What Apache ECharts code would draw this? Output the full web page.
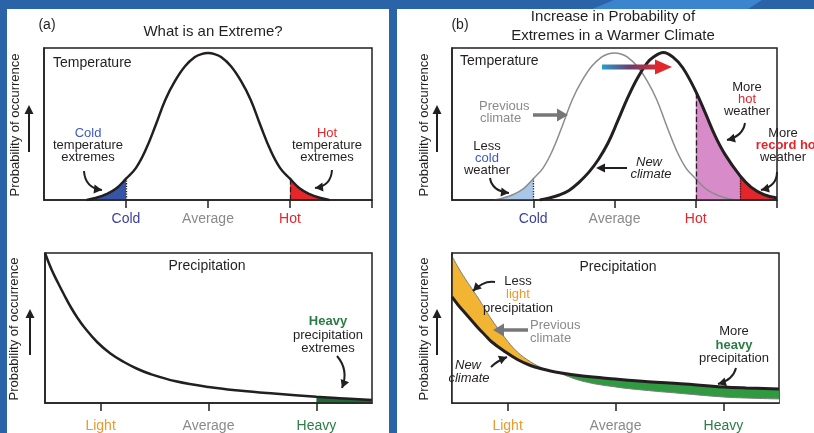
<!DOCTYPE html>
<html>
<head>
<meta charset="utf-8">
<title>Extremes</title>
<script src="https://cdn.jsdelivr.net/npm/echarts@6/dist/echarts.min.js"></script>
<style>
html, body { margin: 0; padding: 0; background: #2b63a8; }
#main { width: 814px; height: 433px; }
</style>
</head>
<body>
<div id="main"></div>
<script>
// 温度 原来的分布 (a 图和 b 图灰线共用)
var tempX = [13, 16, 19, 22, 25, 28, 31, 34, 37, 40, 43, 46, 48, 50, 52, 54, 57, 60, 63, 66, 69, 72, 75, 78, 81, 84, 87];
var tempY = [0, 1.5, 3.8, 7.5, 14, 21, 33, 49, 66, 78.5, 88, 94, 96, 96.7, 96, 94, 88, 78.5, 66, 49, 33, 21, 14, 7.5, 3.8, 1.5, 0];
// 温度 变暖后的分布 (b 图黑线)
var newTempX = [27, 30, 33, 36, 39, 42, 45, 48, 51, 54, 57, 60, 62, 65, 68, 71, 75, 78, 81, 84, 88.6, 92, 96, 100];
var newTempY = [0, 1.4, 3.3, 6.3, 11.5, 18, 26.5, 37.5, 52, 67, 80, 90, 94, 97, 94, 87, 71.5, 57, 42, 30, 16, 8.5, 3.5, 1.3];
// 降水
var precipX = [0, 2, 4, 6, 8, 10, 12, 16, 20, 24, 28, 32, 40, 50, 60, 70, 83, 90, 100];
var precipY = [100, 89, 80, 71.5, 63.5, 56.5, 50.5, 40.5, 33, 27.5, 23, 19.5, 14.5, 10.7, 8.2, 6.3, 4.1, 3.2, 2];
var prevPrecipY = [98, 90, 83, 76.5, 70, 63, 56, 44, 34, 27.5, 23, 20.5, 14.5, 10.7, 8.3, 6.4, 4, 3.3, 2.7];
var newPrecipY = [70.7, 65, 60, 55, 50, 45.5, 41, 34.5, 29, 25, 22.5, 20.5, 18, 16, 14.2, 12.8, 10.7, 10, 9.3];
// 刻度
var tempTicks = [25, 50, 75];
var tempLabels = ['Cold', 'Average', 'Hot'];
var precipTicks = [17, 50, 83];
var precipLabels = ['Light', 'Average', 'Heavy'];
// 分界点
var coldEdge = 25, hotEdge = 75, recordEdge = 88.6, heavyEdge = 83, crossEdge = 32, coverEdge = 28;

var FONT = 'Liberation Sans, Arial, Helvetica, sans-serif';
var INK = '#231f20';
var GREY = '#8a8a8a';
var BLUE_TXT = '#3d5bbf';
var RED = '#e3262b';
var GREEN_TXT = '#2b7d46';
var ORANGE = '#eb9a2c';

// 取区间内的点
function pairs(xs, ys, lo, hi) {
    var out = [];
    for (var i = 0; i < xs.length; i++) {
        if (xs[i] >= lo && xs[i] <= hi) {
            out.push([xs[i], ys[i]]);
        }
    }
    return out;
}
function yAt(xs, ys, x) {
    return ys[xs.indexOf(x)];
}

function axisX(gi, ticks, labelTicks, labels, colors, margin) {
    var rich = {};
    labels.forEach(function (t, k) {
        rich['l' + k] = { color: colors[k], fontSize: 14, fontFamily: FONT };
    });
    return {
        type: 'value', gridIndex: gi, min: 0, max: 100, z: 5,
        axisLine: { show: true, onZero: false, lineStyle: { color: INK, width: 1.5 } },
        axisTick: { show: true, customValues: ticks, length: 8, lineStyle: { color: INK, width: 1.5 } },
        axisLabel: {
            show: true, customValues: labelTicks, margin: margin,
            formatter: function (v) {
                var k = labelTicks.indexOf(v);
                return k < 0 ? '' : '{l' + k + '|' + labels[k] + '}';
            },
            rich: rich
        },
        splitLine: { show: false }
    };
}
// y 轴只画左边框 (盖在白色填充之上)
function axisY(gi) {
    return {
        type: 'value', gridIndex: gi, min: 0, max: 100, z: 5,
        axisLine: { show: true, onZero: false, lineStyle: { color: INK, width: 1.5 } },
        axisTick: { show: false }, axisLabel: { show: false }, splitLine: { show: false }
    };
}
function grid(l, t, w, h) {
    return { left: l, top: t, width: w, height: h, show: true, backgroundColor: '#fff', borderColor: INK, borderWidth: 1.5 };
}
function fill(gi, data, color) {
    return {
        type: 'line', xAxisIndex: gi, yAxisIndex: gi, data: data, smooth: 0.4,
        symbol: 'none', lineStyle: { width: 0 }, areaStyle: { color: color, opacity: 1 }
    };
}
function curve(gi, data, color, width) {
    return {
        type: 'line', xAxisIndex: gi, yAxisIndex: gi, data: data, smooth: 0.4,
        symbol: 'none', lineStyle: { color: color, width: width }
    };
}
function vLine(x, y, type) {
    return [{ coord: [x, 0], lineStyle: { type: type, color: INK, width: 1.3 } }, { coord: [x, y] }];
}

// 文字
function txt(x, y, s, o) {
    o = o || {};
    return {
        type: 'text', z: 100, x: x, y: y, rotation: o.rot || 0,
        style: {
            text: s, x: 0, y: 0, fill: o.color || INK,
            fontSize: o.size || 13, fontFamily: FONT,
            fontWeight: o.bold ? 'bold' : 'normal',
            fontStyle: o.italic ? 'italic' : 'normal',
            align: o.align || 'center', verticalAlign: 'middle'
        }
    };
}
// 箭头
function head(x, y, fx, fy, len, hw, color) {
    var a = Math.atan2(y - fy, x - fx);
    var c = Math.cos(a), s = Math.sin(a);
    return {
        type: 'polygon', z: 100,
        shape: { points: [[x, y], [x - len * c + hw * s, y - len * s - hw * c], [x - len * c - hw * s, y - len * s + hw * c]] },
        style: { fill: color }
    };
}
function bent(x1, y1, cx, cy, x2, y2, color, width, len, hw) {
    return [
        {
            type: 'bezierCurve', z: 100,
            shape: { x1: x1, y1: y1, cpx1: cx, cpy1: cy, x2: x2, y2: y2 },
            style: { stroke: color, lineWidth: width, fill: null }
        },
        head(x2, y2, cx, cy, len, hw, color)
    ];
}
function straight(x1, y1, x2, y2, color, width, len, hw) {
    var a = Math.atan2(y2 - y1, x2 - x1);
    return [
        {
            type: 'line', z: 100,
            shape: { x1: x1, y1: y1, x2: x2 - len * 0.8 * Math.cos(a), y2: y2 - len * 0.8 * Math.sin(a) },
            style: { stroke: color, lineWidth: width }
        },
        head(x2, y2, x1, y1, len, hw, color)
    ];
}

var graphics = [
    // 背景面板
    { type: 'polygon', z: -2, shape: { points: [[614, 0], [762, 0], [748, 9], [592, 9]] }, style: { fill: '#3a85cd' } },
    { type: 'rect', z: -1, shape: { x: 7, y: 9, width: 382, height: 430 }, style: { fill: '#fff' } },
    { type: 'rect', z: -1, shape: { x: 397, y: 9, width: 420, height: 430 }, style: { fill: '#fff' } },

    // (a)
    txt(47, 25, '(a)', { size: 14 }),
    txt(213, 32, 'What is an Extreme?', { size: 15 }),
    txt(53, 63, 'Temperature', { size: 14, align: 'left' }),
    txt(15, 125, 'Probability of occurrence', { rot: Math.PI / 2 }),
    txt(14, 329, 'Probability of occurrence', { rot: Math.PI / 2 }),
    txt(88, 133, 'Cold', { color: BLUE_TXT }),
    txt(88, 145, 'temperature'),
    txt(88, 157, 'extremes'),
    txt(327, 133, 'Hot', { color: RED }),
    txt(327, 145, 'temperature'),
    txt(327, 157, 'extremes'),
    txt(207, 266, 'Precipitation', { size: 14 }),
    txt(328, 321, 'Heavy', { color: GREEN_TXT, bold: true }),
    txt(328, 335, 'precipitation'),
    txt(328, 348, 'extremes'),

    // (b)
    txt(460, 25, '(b)', { size: 14 }),
    txt(613, 17, 'Increase in Probability of', { size: 15 }),
    txt(613, 36, 'Extremes in a Warmer Climate', { size: 15 }),
    txt(460, 61, 'Temperature', { size: 14, align: 'left' }),
    txt(424, 125, 'Probability of occurrence', { rot: Math.PI / 2 }),
    txt(424, 329, 'Probability of occurrence', { rot: Math.PI / 2 }),
    txt(479, 106, 'Previous', { color: GREY, align: 'left' }),
    txt(480, 118, 'climate', { color: GREY, align: 'left' }),
    txt(487, 146, 'Less'),
    txt(487, 158, 'cold', { color: BLUE_TXT }),
    txt(487, 170, 'weather'),
    txt(649, 162, 'New', { italic: true }),
    txt(651, 174, 'climate', { italic: true }),
    txt(747, 87, 'More'),
    txt(747, 99, 'hot', { color: RED }),
    txt(747, 111, 'weather'),
    txt(783, 133, 'More'),
    txt(788, 145, 'record hot', { color: RED, bold: true }),
    txt(783, 157, 'weather'),
    txt(618, 267, 'Precipitation', { size: 14 }),
    txt(518, 281, 'Less'),
    txt(518, 294, 'light', { color: ORANGE }),
    txt(518, 308, 'precipitation'),
    txt(530, 325, 'Previous', { color: GREY, align: 'left' }),
    txt(530, 338, 'climate', { color: GREY, align: 'left' }),
    txt(468, 365, 'New', { italic: true }),
    txt(469, 378, 'climate', { italic: true }),
    txt(734, 331, 'More'),
    txt(734, 345, 'heavy', { color: GREEN_TXT, bold: true }),
    txt(734, 358, 'precipitation'),

    // 渐变箭头
    {
        type: 'rect', z: 100, shape: { x: 602, y: 64.5, width: 56, height: 5 },
        style: {
            fill: new echarts.graphic.LinearGradient(0, 0, 1, 0, [
                { offset: 0, color: '#27a0cc' },
                { offset: 0.5, color: '#6b3d6e' },
                { offset: 1, color: '#e0282d' }
            ])
        }
    },
    { type: 'polygon', z: 100, shape: { points: [[655, 59.5], [672, 67], [655, 74.5]] }, style: { fill: '#e0282d' } }
];

var arrows = [].concat(
    straight(29, 152, 29, 105, INK, 2, 9, 4.5),
    straight(30, 355, 30, 309, INK, 2, 9, 4.5),
    straight(437, 152, 437, 105, INK, 2, 9, 4.5),
    straight(437, 355, 437, 309, INK, 2, 9, 4.5),
    bent(84, 171, 85, 188, 102, 190, INK, 2, 8, 4.5),
    bent(332, 170, 331, 186, 315, 188, INK, 2, 8, 4.5),
    bent(337, 356, 349, 370, 342, 388, INK, 2, 8, 4.5),
    bent(490, 178, 492, 191, 509, 193, INK, 2, 8, 4.5),
    straight(533, 115, 568, 115, '#777', 3.5, 11, 6.5),
    straight(627, 168, 596, 168, INK, 2, 9, 4.5),
    bent(745, 123, 743, 136, 727, 140, INK, 2, 8, 4.5),
    bent(777, 172, 777, 186, 761, 190, INK, 2, 8, 4.5),
    bent(495, 282, 484, 280, 473, 291, INK, 2, 8, 4.5),
    straight(528, 330, 493, 330, '#777', 3.5, 11, 6.5),
    bent(491, 367, 497, 361, 507, 357, INK, 2, 8, 4.5),
    bent(736, 368, 733, 380, 718, 384, INK, 2, 8, 4.5)
);
graphics = graphics.concat(arrows);

var oldCurve = curve(0, pairs(tempX, tempY, 0, 100), INK, 2.5);
oldCurve.markLine = {
    silent: true, symbol: ['none', 'none'], label: { show: false },
    data: [vLine(coldEdge, yAt(tempX, tempY, coldEdge), 'dotted'), vLine(hotEdge, yAt(tempX, tempY, hotEdge), 'dashed')]
};
var warmCurve = curve(2, pairs(newTempX, newTempY, 0, 100), INK, 3);
warmCurve.markLine = {
    silent: true, symbol: ['none', 'none'], label: { show: false },
    data: [
        vLine(coldEdge, yAt(tempX, tempY, coldEdge), 'dotted'),
        vLine(hotEdge, yAt(newTempX, newTempY, hotEdge), 'dashed'),
        vLine(recordEdge, yAt(newTempX, newTempY, recordEdge), 'dotted')
    ]
};

var option = {
    animation: false,
    backgroundColor: '#2b63a8',
    graphic: { elements: graphics },
    grid: [
        grid(44, 48, 328, 152),
        grid(45, 253, 327, 150),
        grid(452, 48, 325, 152),
        grid(452, 253, 327, 150)
    ],
    xAxis: [
        axisX(0, tempTicks.concat([100]), tempTicks, tempLabels, ['#3b3f9e', GREY, RED], 12),
        axisX(1, precipTicks, precipTicks, precipLabels, [ORANGE, GREY, GREEN_TXT], 16),
        axisX(2, tempTicks.concat([100]), tempTicks, tempLabels, ['#3b3f9e', GREY, RED], 12),
        axisX(3, precipTicks, precipTicks, precipLabels, [ORANGE, GREY, GREEN_TXT], 16)
    ],
    yAxis: [axisY(0), axisY(1), axisY(2), axisY(3)],
    series: [
        // (a) 温度
        fill(0, pairs(tempX, tempY, 0, coldEdge), '#3755a6'),
        fill(0, pairs(tempX, tempY, hotEdge, 100), '#e5262b'),
        oldCurve,
        // (a) 降水
        fill(1, pairs(precipX, precipY, heavyEdge, 100), '#1e6a39'),
        curve(1, pairs(precipX, precipY, 0, 100), INK, 2.5),
        // (b) 温度
        fill(2, pairs(tempX, tempY, 0, coldEdge), '#a7c6e8'),
        fill(2, pairs(newTempX, newTempY, hotEdge, recordEdge), '#d88bc9'),
        fill(2, pairs(newTempX, newTempY, recordEdge, 100), '#e3262b'),
        curve(2, pairs(tempX, tempY, 0, 100), '#8c8c8c', 1.5),
        warmCurve,
        // (b) 降水: 两条线之间着色, 下方用白色盖住
        fill(3, pairs(precipX, prevPrecipY, 0, crossEdge), '#f2b533'),
        fill(3, pairs(precipX, newPrecipY, crossEdge, 100), '#2f9a40'),
        fill(3, pairs(precipX, newPrecipY, 0, crossEdge), '#ffffff'),
        fill(3, pairs(precipX, prevPrecipY, coverEdge, 100), '#ffffff'),
        curve(3, pairs(precipX, prevPrecipY, 0, 100), '#7d7d7d', 1),
        curve(3, pairs(precipX, newPrecipY, 0, 100), INK, 3)
    ]
};

var myChart = echarts.init(document.getElementById('main'));
myChart.setOption(option);
</script>
</body>
</html>
